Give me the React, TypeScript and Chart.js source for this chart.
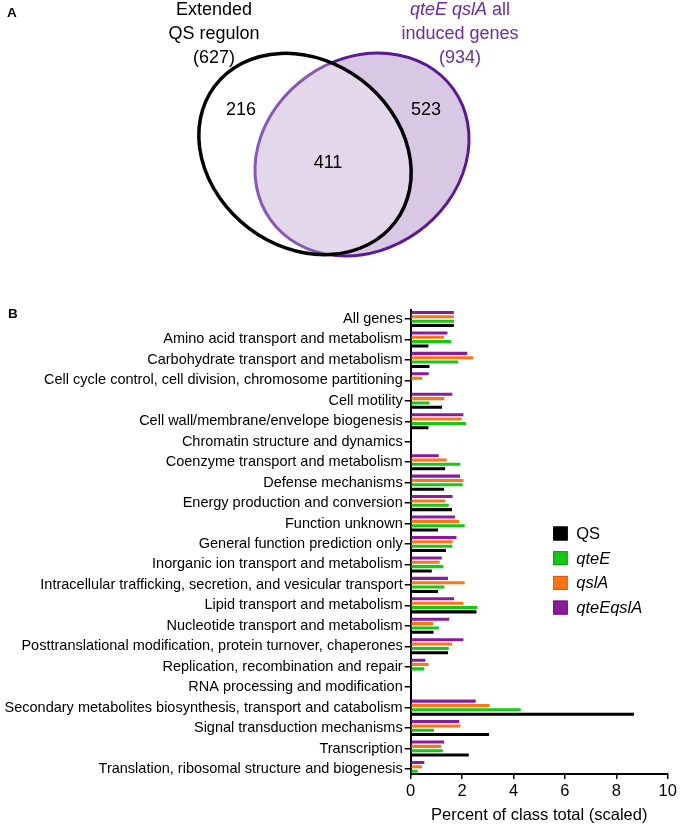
import React, { useEffect, useRef } from "react";
import { Chart, registerables } from "chart.js";

Chart.register(...registerables);

// ---------- Panel A data (Venn) ----------
const vennLeftTitle = ["Extended", "QS regulon"];
const vennRightTitleItalic = "qteE qslA";
const vennRightTitleRest = [" all", "induced genes"];
const vennLeftTotal = 627;
const vennRightTotal = 934;
const vennOnlyLeft = 216;
const vennBoth = 411;
const vennOnlyRight = 523;

// ---------- Panel B data ----------
const categories = [
  "All genes",
  "Amino acid transport and metabolism",
  "Carbohydrate transport and metabolism",
  "Cell cycle control, cell division, chromosome partitioning",
  "Cell motility",
  "Cell wall/membrane/envelope biogenesis",
  "Chromatin structure and dynamics",
  "Coenzyme transport and metabolism",
  "Defense mechanisms",
  "Energy production and conversion",
  "Function unknown",
  "General function prediction only",
  "Inorganic ion transport and metabolism",
  "Intracellular trafficking, secretion, and vesicular transport",
  "Lipid transport and metabolism",
  "Nucleotide transport and metabolism",
  "Posttranslational modification, protein turnover, chaperones",
  "Replication, recombination and repair",
  "RNA processing and modification",
  "Secondary metabolites biosynthesis, transport and catabolism",
  "Signal transduction mechanisms",
  "Transcription",
  "Translation, ribosomal structure and biogenesis",
];

const seriesQS = [1.68, 0.69, 0.73, 0, 1.22, 0.69, 0, 1.34, 1.3, 1.61, 1.06, 1.37, 0.82, 1.06, 2.56, 0.89, 1.45, 0, 0, 8.69, 3.05, 2.26, 0];
const seriesQteE = [1.68, 1.57, 1.85, 0, 0.73, 2.15, 0, 1.93, 2.02, 1.48, 2.1, 1.62, 1.27, 1.31, 2.59, 1.1, 1.48, 0.53, 0, 4.28, 0.91, 1.25, 0.27];
const seriesQslA = [1.68, 1.3, 2.43, 0.45, 1.31, 1.98, 0, 1.4, 2.05, 1.35, 1.89, 1.63, 1.13, 2.1, 2.05, 0.87, 1.61, 0.7, 0, 3.07, 1.93, 1.18, 0.44];
const seriesQteEqslA = [1.68, 1.43, 2.2, 0.7, 1.62, 2.05, 0, 1.09, 1.92, 1.63, 1.72, 1.78, 1.21, 1.45, 1.69, 1.5, 2.05, 0.57, 0, 2.53, 1.89, 1.3, 0.53];

const seriesNames = ["QS", "qteE", "qslA", "qteEqslA"];
const seriesItalic = [false, true, true, true];
const seriesColors = ["#000000", "#14c814", "#ff7415", "#8a1c99"];
const seriesBorders = ["#000000", "#0c9a0c", "#d65a08", "#66106f"];

const xTickValues = [0, 2, 4, 6, 8, 10];
const xTitle = "Percent of class total (scaled)";

const FONT = '"Liberation Sans", Arial, Helvetica, sans-serif';

export default function App() {
  const ref = useRef<HTMLCanvasElement>(null);

  useEffect(() => {
    document.body.style.margin = "0";
    const canvas = ref.current!;

    const vennPlugin = {
      id: "vennPanel",
      afterDraw(chart: any) {
        const ctx: CanvasRenderingContext2D = chart.ctx;
        ctx.save();
        // panel letters
        ctx.fillStyle = "#000";
        ctx.font = `bold 13.5px ${FONT}`;
        ctx.textAlign = "left";
        ctx.textBaseline = "alphabetic";
        ctx.fillText("A", 7, 17);
        ctx.fillText("B", 8, 318);

        // purple ellipse
        ctx.beginPath();
        ctx.ellipse(362, 154.5, 112.4, 95.5, (-35.4 * Math.PI) / 180, 0, Math.PI * 2);
        ctx.fillStyle = "#d8c8e4";
        ctx.fill();
        ctx.lineWidth = 3;
        ctx.strokeStyle = "#5a1a96";
        ctx.stroke();

        // black ellipse with translucent white fill
        ctx.beginPath();
        ctx.ellipse(305, 154, 113, 93, (37 * Math.PI) / 180, 0, Math.PI * 2);
        ctx.fillStyle = "rgba(255,255,255,0.28)";
        ctx.fill();
        ctx.lineWidth = 3.5;
        ctx.strokeStyle = "#000";
        ctx.stroke();

        // titles
        ctx.font = `18px ${FONT}`;
        ctx.textAlign = "center";
        ctx.fillStyle = "#000";
        ctx.fillText(vennLeftTitle[0], 214, 15);
        ctx.fillText(vennLeftTitle[1], 214, 39);
        ctx.fillText(`(${vennLeftTotal})`, 214, 63);

        const purpleText = "#6b2c9f";
        ctx.fillStyle = purpleText;
        ctx.font = `italic 18px ${FONT}`;
        const wItal = ctx.measureText(vennRightTitleItalic).width;
        ctx.font = `18px ${FONT}`;
        const wRest = ctx.measureText(vennRightTitleRest[0]).width;
        const startX = 460 - (wItal + wRest) / 2;
        ctx.textAlign = "left";
        ctx.font = `italic 18px ${FONT}`;
        ctx.fillText(vennRightTitleItalic, startX, 15);
        ctx.font = `18px ${FONT}`;
        ctx.fillText(vennRightTitleRest[0], startX + wItal, 15);
        ctx.textAlign = "center";
        ctx.fillText(vennRightTitleRest[1], 460, 39);
        ctx.fillText(`(${vennRightTotal})`, 460, 63);

        // counts
        ctx.fillStyle = "#000";
        ctx.fillText(String(vennOnlyLeft), 241, 115);
        ctx.fillText(String(vennOnlyRight), 426, 115);
        ctx.fillText(String(vennBoth), 328, 168);
        ctx.restore();
      },
    };

    const legendPlugin = {
      id: "customLegend",
      afterDraw(chart: any) {
        const ctx: CanvasRenderingContext2D = chart.ctx;
        const area = chart.chartArea;
        const x0 = area.right - 114.5;
        const y0 = area.top + 223.5;
        ctx.save();
        ctx.textAlign = "left";
        ctx.textBaseline = "middle";
        seriesNames.forEach((name, i) => {
          const y = y0 + i * 24.7;
          ctx.fillStyle = seriesColors[i];
          ctx.fillRect(x0, y - 7, 14.5, 14);
          ctx.lineWidth = 1;
          ctx.strokeStyle = seriesBorders[i];
          ctx.strokeRect(x0 + 0.5, y - 6.5, 13.5, 13);
          ctx.fillStyle = "#000";
          ctx.font = `${seriesItalic[i] ? "italic " : ""}16.5px ${FONT}`;
          ctx.fillText(name, x0 + 23, y + 1);
        });
        ctx.restore();
      },
    };

    const seriesData = [seriesQS, seriesQteE, seriesQslA, seriesQteEqslA];
    // drawing order top->bottom in each group: qteEqslA, qslA, qteE, QS
    const order = [3, 2, 1, 0];
    const datasets = order.map((si) => ({
      label: seriesNames[si],
      data: seriesData[si].map((v, i) => ({ x: v, y: i })),
      backgroundColor: seriesColors[si],
      borderWidth: 0,
      categoryPercentage: 0.85,
      barPercentage: 0.7,
    }));

    const chart = new Chart(canvas, {
      type: "bar",
      data: { datasets },
      options: {
        responsive: false,
        animation: false,
        indexAxis: "y",
        layout: { padding: { top: 310, left: 0, right: 12.3, bottom: 0 } },
        plugins: { legend: { display: false }, tooltip: { enabled: false } },
        scales: {
          x: {
            type: "linear",
            position: "bottom",
            min: xTickValues[0],
            max: xTickValues[xTickValues.length - 1],
            afterBuildTicks: (s: any) => {
              s.ticks = xTickValues.map((v) => ({ value: v }));
            },
            ticks: { color: "#000", font: { family: FONT, size: 16.5 }, padding: 3, maxRotation: 0 },
            grid: { drawOnChartArea: false, drawTicks: true, tickLength: 5, color: "#000", lineWidth: 1.5 },
            border: { display: true, color: "#000", width: 2 },
            title: {
              display: true,
              text: xTitle,
              color: "#000",
              font: { family: FONT, size: 16.5 },
              padding: { top: 0, bottom: 1 },
            },
            afterFit: (s: any) => {
              s.height = 52;
            },
          },
          y: {
            type: "linear",
            reverse: true,
            offset: false,
            min: -0.44,
            max: 22.245,
            afterBuildTicks: (s: any) => {
              s.ticks = categories.map((_, i) => ({ value: i }));
            },
            ticks: {
              autoSkip: false,
              color: "#000",
              font: { family: FONT, size: 14.5 },
              padding: 2,
              callback: (v: any) => categories[v] ?? "",
            },
            grid: {
              offset: false,
              drawOnChartArea: false,
              drawTicks: true,
              tickLength: 6,
              color: "#000",
              lineWidth: 1.5,
            },
            border: { display: true, color: "#000", width: 2 },
            afterFit: (s: any) => {
              s.width = 410.7;
            },
          },
        },
      } as any,
      plugins: [vennPlugin, legendPlugin],
    });

    return () => chart.destroy();
  }, []);

  return <canvas ref={ref} width={680} height={826} style={{ display: "block" }} />;
}
